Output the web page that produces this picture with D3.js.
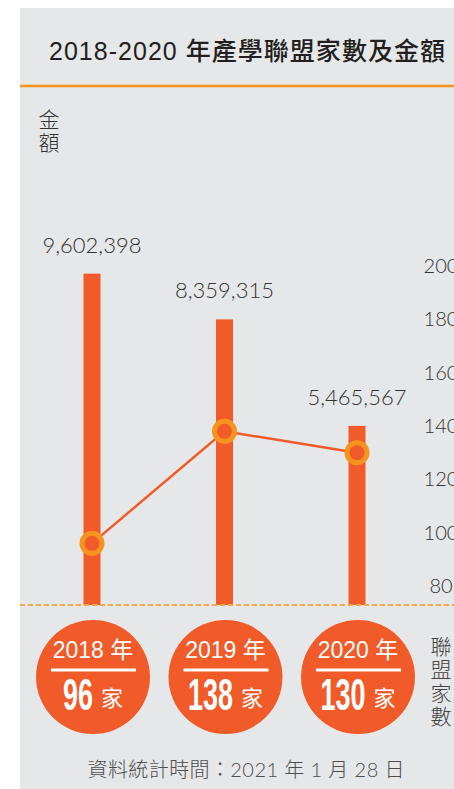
<!DOCTYPE html>
<html><head><meta charset="utf-8">
<script src="https://cdn.jsdelivr.net/npm/d3@7"></script>
<style>
html,body{margin:0;padding:0;background:#fff;}
svg{display:block;}
</style></head>
<body>
<script>
const years = ["2018", "2019", "2020"];
const amounts = [9602398, 8359315, 5465567];
const counts = [96, 138, 130];
const countTicks = [80, 100, 120, 140, 160, 180, 200];
const titleText = "2018-2020 年產學聯盟家數及金額";
const leftAxisLabel = ["金", "額"];
const rightAxisLabel = ["聯", "盟", "家", "數"];
const footerText = "資料統計時間：2021 年 1 月 28 日";

const W = 454, H = 789;
const RED = "#F15A29", ORANGE = "#F7941D", BG = "#E6E7E8";
const latin = "Lato, 'DejaVu Sans', sans-serif";
const cjk = "'Liberation Sans', 'Noto Sans CJK TC', sans-serif";

const svg = d3.select("body").append("svg").attr("width", W).attr("height", H);
svg.append("rect").attr("x", 20).attr("y", 8).attr("width", W - 20).attr("height", H - 8).attr("fill", BG);

// title
svg.append("text").attr("x", 247).attr("y", 60).attr("text-anchor", "middle")
  .attr("font-family", cjk).attr("font-weight", 500).attr("font-size", 25)
  .attr("fill", "#231F20").attr("textLength", 396).attr("lengthAdjust", "spacing")
  .text(titleText);
svg.append("line").attr("x1", 20).attr("x2", W).attr("y1", 86).attr("y2", 86)
  .attr("stroke", ORANGE).attr("stroke-width", 2.5);

const baseY = 605;
const x = d3.scalePoint().domain(years).range([92, 357]);
const yAmt = d3.scaleLinear().domain([600000, 10000000]).range([baseY, 259]);
const yCnt = d3.scaleLinear().domain([80, 200]).range([586, 266]);

// vertical label helper (single text element, one tspan per character)
function vLabel(chars, cx, y0, step, color) {
  svg.append("text").attr("text-anchor", "middle")
    .attr("font-family", "'Noto Sans CJK TC', sans-serif").attr("font-weight", 300)
    .attr("font-size", 21).attr("fill", color)
    .selectAll("tspan").data(chars).join("tspan")
    .attr("x", cx).attr("y", (d, i) => y0 + i * step).text(d => d);
}
vLabel(leftAxisLabel, 49, 127, 23, "#333");

// right axis
const axis = d3.axisRight(yCnt).tickValues(countTicks).tickSize(0).tickPadding(0);
const gAx = svg.append("g").attr("transform", "translate(441,0)").call(axis);
gAx.select(".domain").remove();
gAx.selectAll("text").attr("text-anchor", "middle").attr("x", 0)
  .attr("font-family", latin).attr("font-weight", 300).attr("font-size", 20).attr("fill", "#333");

// bars
const barW = 17;
svg.append("g").selectAll("rect").data(amounts).join("rect")
  .attr("x", (d, i) => x(years[i]) - barW / 2).attr("width", barW)
  .attr("y", d => yAmt(d)).attr("height", d => baseY - yAmt(d)).attr("fill", RED);

// value labels
svg.append("g").selectAll("text").data(amounts).join("text")
  .attr("x", (d, i) => x(years[i])).attr("y", d => yAmt(d) - 21)
  .attr("text-anchor", "middle").attr("font-family", latin).attr("font-weight", 300)
  .attr("font-size", 22).attr("fill", "#333").text(d => d3.format(",")(d));

// dashed baseline
svg.append("line").attr("x1", 20).attr("x2", W).attr("y1", baseY).attr("y2", baseY)
  .attr("stroke", "#F7A649").attr("stroke-width", 1.8).attr("stroke-dasharray", "5,3");

// line + points
const line = d3.line().x((d, i) => x(years[i])).y(d => yCnt(d));
svg.append("path").datum(counts).attr("d", line).attr("fill", "none")
  .attr("stroke", RED).attr("stroke-width", 2.5);
svg.append("g").selectAll("circle").data(counts).join("circle")
  .attr("cx", (d, i) => x(years[i])).attr("cy", d => yCnt(d)).attr("r", 10)
  .attr("fill", RED).attr("stroke", ORANGE).attr("stroke-width", 5);

// badges
const badge = svg.append("g").selectAll("g").data(years).join("g")
  .attr("transform", d => `translate(${x(d) + 1},677)`);
badge.append("circle").attr("r", 57).attr("fill", RED);
badge.append("text").attr("y", -19).attr("text-anchor", "middle")
  .attr("font-family", cjk).attr("font-size", 23).attr("fill", "#fff")
  .text(d => d + " 年");
badge.append("line").attr("x1", -42).attr("x2", 43).attr("y1", -7).attr("y2", -7)
  .attr("stroke", "#fff").attr("stroke-width", 3);
badge.each(function(d, i) {
  const g = d3.select(this);
  const s = String(counts[i]);
  const numW = s.length * 15;
  const total = numW + 8 + 22;
  const x0 = -total / 2;
  const t = g.append("text").attr("x", 0).attr("y", 0)
    .attr("font-family", "'Liberation Sans Narrow', 'Liberation Sans', sans-serif")
    .attr("font-weight", "bold").attr("font-size", 44).attr("fill", "#fff").text(s);
  const nat = t.node().getComputedTextLength();
  t.attr("transform", `translate(${x0},33) scale(${numW / nat},1)`);
  g.append("text").attr("x", x0 + numW + 8).attr("y", 29)
    .attr("font-family", "'Noto Sans CJK TC', sans-serif").attr("font-size", 22)
    .attr("fill", "#fff").text("家");
});

// right label
vLabel(rightAxisLabel, 441, 654, 23.3, "#444");

// footer
svg.append("text").attr("x", 246).attr("y", 777).attr("text-anchor", "middle")
  .attr("font-family", "Lato, 'Noto Sans CJK TC', sans-serif").attr("font-weight", 300)
  .attr("font-size", 20).attr("fill", "#4D4D4D").attr("textLength", 317).attr("lengthAdjust", "spacing")
  .text(footerText);
</script>
</body></html>
